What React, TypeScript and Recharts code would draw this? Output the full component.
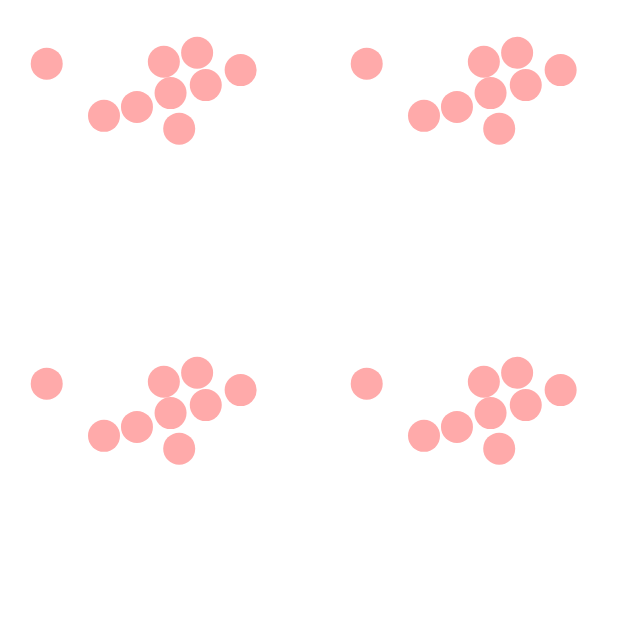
import React from 'react'
import { ScatterChart, Scatter, XAxis, YAxis } from 'recharts'

// point positions (same data in all four panels)
const xValues = [1.46, 5.12, 6.16, 7.52, 6.43, 5.33, 4.28, 3.25, 5.6]
const yValues = [8.01, 8.07, 8.35, 7.81, 7.34, 7.09, 6.66, 6.38, 5.98]
const panels = ['a', 'b', 'c', 'd']

const points = xValues.map((x, i) => ({ x, y: yValues[i] }))

const Dot = (props: any) => <circle cx={props.cx} cy={props.cy} r={16} fill="#ffaaaa" />

function Panel() {
  return (
    <ScatterChart width={320} height={320} margin={{ top: 0, right: 0, bottom: 0, left: 0 }}>
      <XAxis type="number" dataKey="x" domain={[0, 10]} hide />
      <YAxis type="number" dataKey="y" domain={[0, 10]} hide />
      <Scatter data={points} shape={Dot} isAnimationActive={false} />
    </ScatterChart>
  )
}

export default function App() {
  return (
    <div
      style={{
        position: 'absolute',
        top: 0,
        left: 0,
        width: 640,
        height: 640,
        background: '#fff',
        display: 'grid',
        gridTemplateColumns: '320px 320px',
        gridTemplateRows: '320px 320px',
      }}
    >
      {panels.map((p) => (
        <Panel key={p} />
      ))}
    </div>
  )
}
